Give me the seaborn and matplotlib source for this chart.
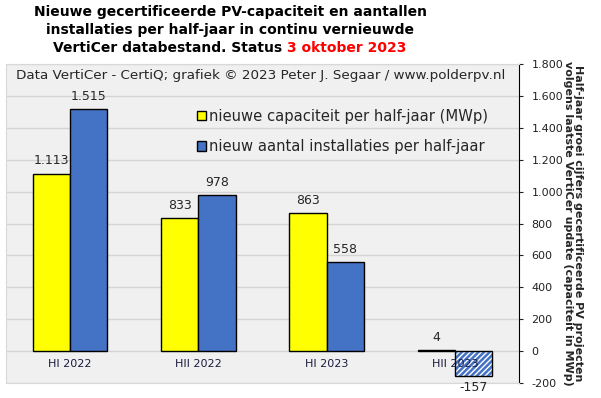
import pandas as pd
import matplotlib.pyplot as plt
import matplotlib.ticker as mticker
from matplotlib.patches import Patch, Rectangle
import seaborn as sns

# data
perioden = ["HI 2022", "HII 2022", "HI 2023", "HII 2023"]
capaciteit = [1113, 833, 863, 4]
aantal = [1515, 978, 558, -157]
series = ["nieuwe capaciteit per half-jaar (MWp)",
          "nieuw aantal installaties per half-jaar"]

df = pd.DataFrame({
    "periode": perioden * 2,
    "waarde": capaciteit + aantal,
    "serie": [series[0]] * 4 + [series[1]] * 4,
})

sns.set_style("white")
plt.rcParams["font.family"] = ["DejaVu Sans"]

W, H = 601, 398
fig = plt.figure(figsize=(W / 100, H / 100), dpi=100)
ax = fig.add_axes([6 / W, 1 - 383 / H, 513 / W, 319 / H])
ax.set_facecolor("#f0f0f0")

sns.barplot(data=df, x="periode", y="waarde", hue="serie",
            palette=["#ffff00", "#4472c4"], saturation=1,
            edgecolor="black", linewidth=1,
            width=0.58, gap=0, ax=ax, legend=False)

ax.set_xlim(-0.5, 3.5)
ax.set_ylim(-200, 1800)
ax.yaxis.set_major_locator(mticker.MultipleLocator(200))
ax.yaxis.set_major_formatter(mticker.FuncFormatter(
    lambda v, p: f"{int(v):,}".replace(",", ".")))
ax.yaxis.tick_right()
ax.yaxis.set_label_position("right")
ax.tick_params(axis="y", labelsize=8, length=3, colors="#222222", pad=6)
ax.set_xticks([])
ax.set_xlabel("")
ax.set_ylabel("Half-jaar groei cijfers gecertificeerde PV projecten\n"
              "volgens laatste VertiCer update (capaciteit in MWp)",
              rotation=-90, labelpad=14, fontsize=8, fontweight="bold",
              linespacing=1.0)
ax.grid(axis="y", color="#d4d4d4", linewidth=1)
ax.set_axisbelow(True)
for s in ["left", "top", "bottom"]:
    ax.spines[s].set_color("#d8d8d8")
ax.spines["right"].set_color("black")

# hatch negative bar: white hatch, black outline on top
bars = list(ax.patches)
for b in bars:
    if b.get_height() < 0:
        b.set_hatch("//////")
        b.set_edgecolor("white")
        b.set_linewidth(0.8)
        ax.add_patch(Rectangle(b.get_xy(), b.get_width(), b.get_height(),
                               fill=False, edgecolor="black", linewidth=1,
                               zorder=b.get_zorder() + 0.1))

# value labels
for b in bars:
    h = b.get_height()
    x = b.get_x() + b.get_width() / 2
    txt = f"{int(h):,}".replace(",", ".")
    if h >= 0:
        ax.text(x, h + 40, txt, ha="center", va="bottom", fontsize=9)
    else:
        ax.text(x, h - 30, txt, ha="center", va="top", fontsize=9)

# category labels inside plot
for i, p in enumerate(perioden):
    ax.text(i, -80, p, ha="center", va="center", fontsize=8,
            color="#1a1a40")

ax.text(10 / 513, (383 - 76) / 319,
        "Data VertiCer - CertiQ; grafiek \u00a9 2023 Peter J. Segaar / www.polderpv.nl",
        transform=ax.transAxes, fontsize=9.7, va="center", ha="left")

handles = [Patch(facecolor="#ffff00", edgecolor="black"),
           Patch(facecolor="#4472c4", edgecolor="black")]
ax.legend(handles, series, loc="upper left",
          bbox_to_anchor=((197 - 6) / 513, (383 - 109) / 319),
          borderaxespad=0, borderpad=0,
          frameon=False, fontsize=10.6, handlelength=0.6, handleheight=0.6,
          handletextpad=0.2, labelspacing=1.03)

# title, line by line, last line partly red
cx = 230 / W
tkw = dict(fontsize=10, fontweight="bold", va="center", color="black")
fig.text(cx, 1 - 12 / H, "Nieuwe gecertificeerde PV-capaciteit en aantallen",
         ha="center", **tkw)
fig.text(cx, 1 - 30 / H, "installaties per half-jaar in continu vernieuwde",
         ha="center", **tkw)
t1 = fig.text(0, 1 - 48 / H, "VertiCer databestand. Status ", ha="left", **tkw)
tkw["color"] = "#ff0000"
t2 = fig.text(0, 1 - 48 / H, "3 oktober 2023", ha="left", **tkw)
r = fig.canvas.get_renderer()
w1 = t1.get_window_extent(r).width / W
w2 = t2.get_window_extent(r).width / W
x0 = cx - (w1 + w2) / 2
t1.set_x(x0)
t2.set_x(x0 + w1)

plt.savefig("out.png", dpi=100)
